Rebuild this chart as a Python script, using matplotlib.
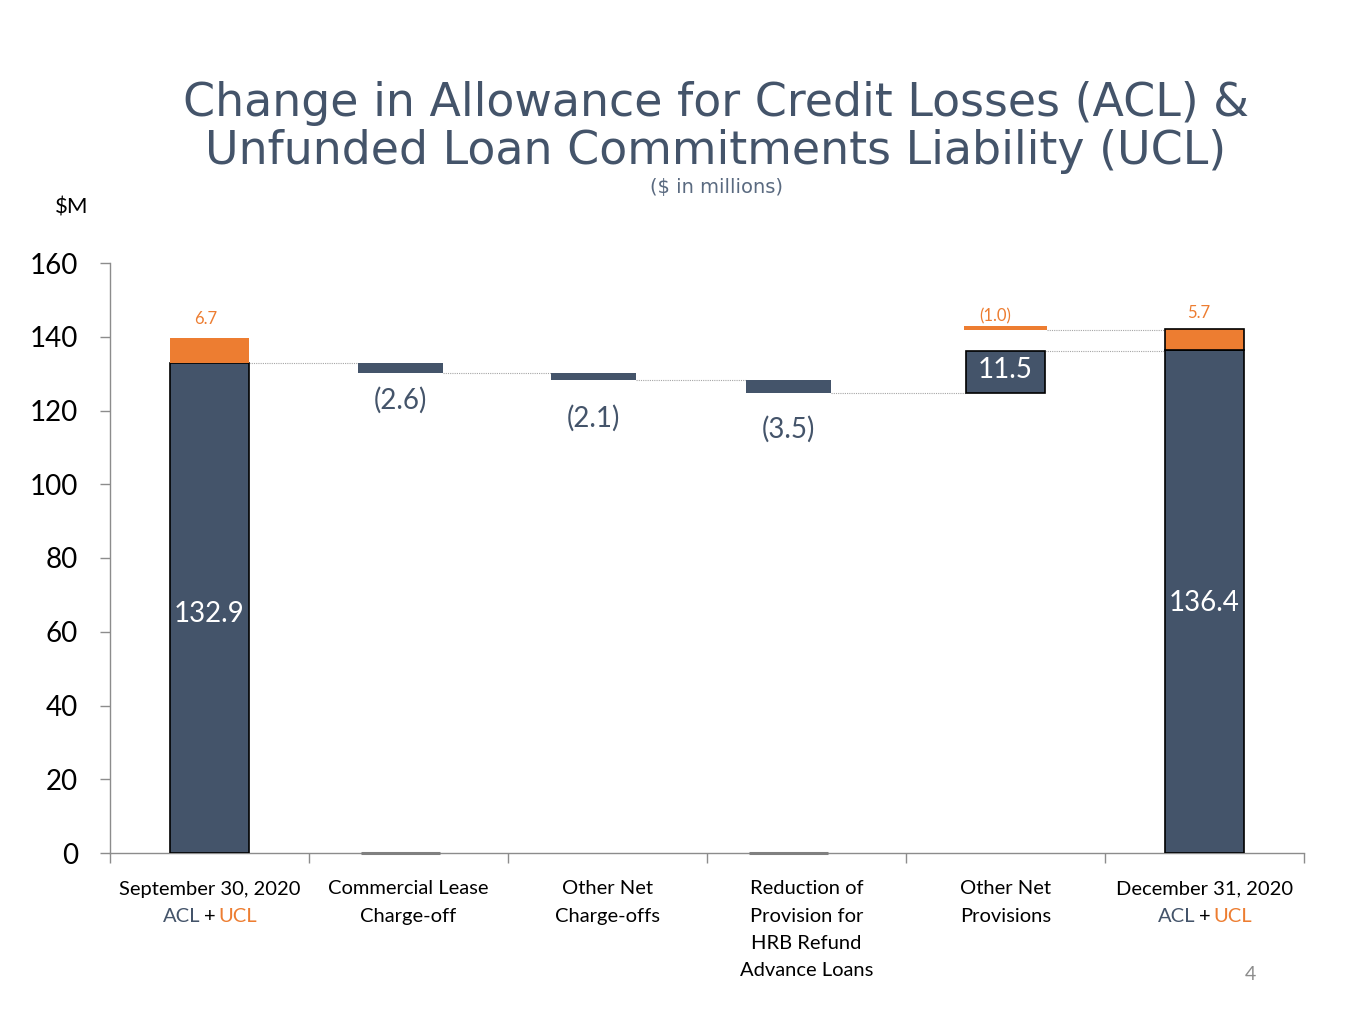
import matplotlib
matplotlib.use("Agg")
import matplotlib.pyplot as plt
import numpy as np

# ---------------- data ----------------
categories = ["September 30, 2020", "Commercial Lease\nCharge-off", "Other Net\nCharge-offs",
              "Reduction of\nProvision for\nHRB Refund\nAdvance Loans", "Other Net\nProvisions",
              "December 31, 2020"]
acl_start = 132.9
ucl_start = 6.7
acl_changes = [-2.6, -2.1, -3.5, 11.5]
ucl_change = -1.0
acl_end = 136.4
ucl_end = 5.7
change_labels = ["(2.6)", "(2.1)", "(3.5)", "11.5"]
ucl_change_label = "(1.0)"
yticks = [0, 20, 40, 60, 80, 100, 120, 140, 160]

# ---------------- style ----------------
DARK = "#44546A"
ORANGE = "#ED7D31"
GREY = "#A6A6A6"
FONT = "Lato"
W, H = 1365, 1024

fig = plt.figure(figsize=(W / 100, H / 100), dpi=100)
fig.patch.set_facecolor("white")

def fx(px):
    return px / W

def fy(py):
    return 1 - py / H

ax = fig.add_axes([fx(110), fy(853), fx(1304) - fx(110), fy(263) - fy(853)])
ax.set_xlim(0, 6)
ax.set_ylim(0, 160)

# offsets/widths (layout only)
offsets = [0.0, -0.04, -0.07, -0.09, 0.0, 0.0]
xc = [i + 0.5 + offsets[i] for i in range(6)]
w_end = 0.40
w_float = 0.43

# start bar
ax.bar(xc[0], acl_start, width=w_end, color=DARK, edgecolor="black", linewidth=1.2, zorder=3)
ax.bar(xc[0], ucl_start, bottom=acl_start, width=w_end, color=ORANGE, edgecolor="none", zorder=3)

# floating ACL bars
running = acl_start
levels = [running]
for i, ch in enumerate(acl_changes):
    bottom = running if ch >= 0 else running + ch
    if ch >= 0:
        ax.bar(xc[i + 1], ch, bottom=bottom, width=0.40, color=DARK, edgecolor="black",
               linewidth=1.2, zorder=3)
    else:
        ax.bar(xc[i + 1], -ch, bottom=bottom, width=w_float, color=DARK, edgecolor="none", zorder=3)
    running += ch
    levels.append(running)

# floating UCL bar
ucl_top = running + ucl_start
ucl_bottom = ucl_top + ucl_change
ax.bar(xc[4], -ucl_change, bottom=ucl_bottom, width=0.42, color=ORANGE, edgecolor="none", zorder=3)

# end bar
ax.bar(xc[5], acl_end, width=w_end, color=DARK, edgecolor="black", linewidth=1.2, zorder=3)
ax.bar(xc[5], ucl_end, bottom=acl_end, width=w_end, color=ORANGE, edgecolor="black",
       linewidth=1.2, zorder=3)

# connectors
conn_kw = dict(color=GREY, linestyle=(0, (1, 1)), linewidth=0.8, zorder=2)
widths = [w_end, w_float, w_float, w_float, 0.40, w_end]
for i in range(5):
    x0 = xc[i] + widths[i] / 2
    x1 = xc[i + 1] - widths[i + 1] / 2
    ax.plot([x0, x1], [levels[i], levels[i]], **conn_kw)
ax.plot([xc[4] + 0.21, xc[5] - w_end / 2], [ucl_bottom, ucl_bottom], **conn_kw)

# small grey base segments at zero
for i in (1, 3):
    ax.hlines(0, xc[i] - 0.2, xc[i] + 0.2, color="#808080", linewidth=2.2, zorder=4, clip_on=False)

# value labels
ax.text(xc[0], acl_start / 2 - 1.6, f"{acl_start:.1f}", color="white", fontsize=20, family=FONT,
        ha="center", va="center", zorder=5)
ax.text(xc[5], acl_end / 2 - 0.4, f"{acl_end:.1f}", color="white", fontsize=20, family=FONT,
        ha="center", va="center", zorder=5)
ax.annotate(f"{ucl_start:.1f}", (xc[0] - 0.02, acl_start + ucl_start), xytext=(0, 8),
            textcoords="offset points", ha="center", va="bottom", color=ORANGE,
            fontsize=12, family=FONT)
ax.annotate(f"{ucl_end:.1f}", (xc[5] - 0.03, acl_end + ucl_end), xytext=(0, 6),
            textcoords="offset points", ha="center", va="bottom", color=ORANGE,
            fontsize=12, family=FONT)
ax.annotate(ucl_change_label, (xc[4] - 0.05, ucl_top), xytext=(0, 1),
            textcoords="offset points", ha="center", va="bottom", color=ORANGE,
            fontsize=12, family=FONT)

label_off = [-10, -18, -16]
for i in range(3):
    ax.annotate(change_labels[i], (xc[i + 1], levels[i + 1]), xytext=(0, label_off[i]),
                textcoords="offset points", ha="center", va="top", color=DARK,
                fontsize=20, family=FONT)
ax.text(xc[4], levels[3] + acl_changes[3] / 2 + 0.5, change_labels[3], color="white",
        fontsize=20, family=FONT, ha="center", va="center", zorder=5)

# axes styling
for s in ("top", "right"):
    ax.spines[s].set_visible(False)
for s in ("left", "bottom"):
    ax.spines[s].set_color("#8C8C8C")
    ax.spines[s].set_linewidth(1.0)
ax.set_yticks(yticks)
ax.set_yticklabels([str(v) for v in yticks], fontsize=20, family=FONT)
ax.tick_params(axis="y", length=7, width=1, color="#8C8C8C", pad=16)
ax.set_xticks(range(7))
ax.set_xticklabels([])
ax.tick_params(axis="x", length=7, width=1, color="#8C8C8C")

# category labels
line_step = 27.3
for i, cat in enumerate(categories):
    xpix = 110 + (i + 0.5) * 199
    for k, line in enumerate(cat.split("\n")):
        fig.text(fx(xpix), fy(889 + k * line_step), line, ha="center", va="center",
                 fontsize=14.5, family=FONT, color="black")
    if i in (0, 5):
        ypix = fy(889 + line_step)
        fig.text(fx(xpix), ypix, "+", ha="center", va="center", fontsize=14.5, family=FONT, color="black")
        fig.text(fx(xpix - 9), ypix, "ACL", ha="right", va="center", fontsize=14.5, family=FONT, color=DARK)
        fig.text(fx(xpix + 9), ypix, "UCL", ha="left", va="center", fontsize=14.5, family=FONT, color=ORANGE)

# titles
fig.text(fx(716), fy(103), "Change in Allowance for Credit Losses (ACL) &", ha="center", va="center",
         fontsize=33, color=DARK, family="DejaVu Sans")
fig.text(fx(716), fy(152), "Unfunded Loan Commitments Liability (UCL)", ha="center", va="center",
         fontsize=33, color=DARK, family="DejaVu Sans")
fig.text(fx(716), fy(188), "($ in millions)", ha="center", va="center",
         fontsize=14, color="#5A6A80", family="DejaVu Sans")
fig.text(fx(72), fy(207), "$M", ha="center", va="center", fontsize=16, family=FONT, color="black")
fig.text(fx(1250), fy(975), "4", ha="center", va="center", fontsize=14, family=FONT, color="#8C8C8C")

fig.savefig("out.png", dpi=100, facecolor="white")
